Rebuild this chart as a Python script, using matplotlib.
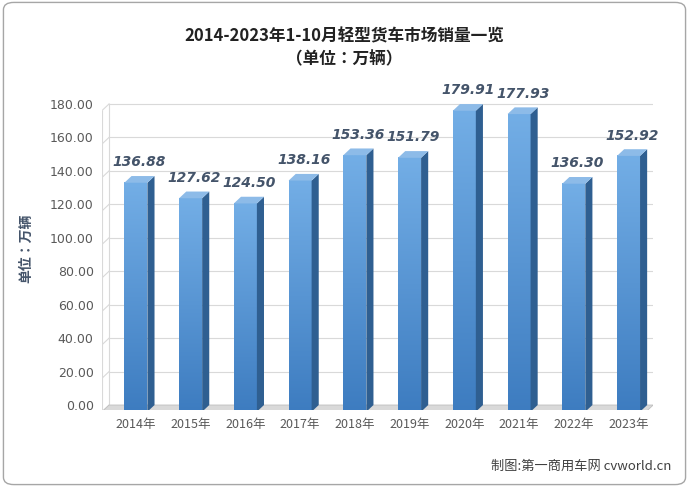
import matplotlib
matplotlib.use("Agg")
import matplotlib.pyplot as plt
import numpy as np
from matplotlib.patches import Polygon, FancyBboxPatch
from matplotlib import font_manager as fm
from matplotlib.colors import LinearSegmentedColormap

cjk = None
for f in fm.findSystemFonts():
    if 'CJK' in f and ('SC' in f or 'ttc' in f.lower()):
        try:
            fm.fontManager.addfont(f)
        except Exception:
            pass
        cjk = f
names = [f.name for f in fm.fontManager.ttflist if 'CJK' in f.name]
fam = 'Noto Sans CJK SC' if 'Noto Sans CJK SC' in names else (names[0] if names else 'DejaVu Sans')
plt.rcParams['font.family'] = [fam, 'DejaVu Sans']

years = ["2014年","2015年","2016年","2017年","2018年","2019年","2020年","2021年","2022年","2023年"]
values = [136.88,127.62,124.50,138.16,153.36,151.79,179.91,177.93,136.30,152.92]
yticks = [0,20,40,60,80,100,120,140,160,180]

fig = plt.figure(figsize=(6.89,4.87), dpi=100)
fig.patches.append(FancyBboxPatch((0.005,0.005),0.99,0.99, boxstyle="round,pad=0,rounding_size=0.015",
                                  transform=fig.transFigure, fc='none', ec='#a6a6a6', lw=1, zorder=5))
ax = fig.add_axes([0.148, 0.158, 0.80, 0.663])
ax.set_facecolor('none')
ax.set_xlim(-0.62, 9.45)
ax.set_ylim(-3, 190)
for s in ax.spines.values(): s.set_visible(False)

dx, dy = 0.13, 4.0
for t in yticks:
    ax.plot([-0.62+dx, 9.45], [t, t], color='#d9d9d9', lw=0.8, zorder=0)
    ax.plot([-0.62, -0.62+dx], [t-dy, t], color='#d9d9d9', lw=0.8, zorder=0)
ax.plot([-0.62, -0.62], [-dy, 180-dy], color='#d9d9d9', lw=0.8, zorder=0)
ax.plot([-0.62+dx, -0.62+dx], [0, 180], color='#d9d9d9', lw=0.8, zorder=0)
ax.add_patch(Polygon([[-0.62,-dy],[9.45-dx,-dy],[9.45,0],[-0.62+dx,0]], closed=True,
                     fc='#d9d9d9', ec='#bfbfbf', lw=0.6, zorder=1))

w = 0.42
grad = np.linspace(0, 1, 256).reshape(-1, 1)
cmap = LinearSegmentedColormap.from_list('b', ['#3d7cc0', '#73aee6'])
for i, v in enumerate(values):
    x0, x1 = i - w/2, i + w/2
    ax.imshow(grad, extent=[x0, x1, -dy, v-dy], origin='lower', cmap=cmap, aspect='auto', zorder=3)
    ax.add_patch(Polygon([[x1,-dy],[x1+dx,0],[x1+dx,v],[x1,v-dy]], closed=True, fc='#2f5f91', ec='none', zorder=3))
    ax.add_patch(Polygon([[x0,v-dy],[x1,v-dy],[x1+dx,v],[x0+dx,v]], closed=True, fc='#8dbbe8', ec='none', zorder=3))
    ax.text(i+dx/2, v+4, f"{v:.2f}", ha='center', va='bottom', fontsize=10, fontweight='bold',
            style='italic', color='#44546a', family='DejaVu Sans', zorder=4)
ax.set_xlim(-0.62, 9.45)
ax.set_ylim(-3, 190)

ax.set_yticks(yticks)
ax.set_yticklabels([f"{t:.2f}" for t in yticks], fontsize=9, color='#595959', family='DejaVu Sans')
ax.set_xticks(range(len(years)))
ax.set_xticklabels(years, fontsize=9, color='#595959')
ax.tick_params(length=0, pad=6)
ax.set_ylabel("单位：万辆", fontsize=10, fontweight='bold', color='#44546a', labelpad=12)

fig.text(0.5, 0.915, "2014-2023年1-10月轻型货车市场销量一览", ha='center', fontsize=12, fontweight='bold', color='#222222')
fig.text(0.5, 0.868, "（单位：万辆）", ha='center', fontsize=12, fontweight='bold', color='#222222')
fig.text(0.975, 0.035, "制图:第一商用车网 cvworld.cn", ha='right', fontsize=9.5, color='#404040')

fig.savefig("out.png", dpi=100)
